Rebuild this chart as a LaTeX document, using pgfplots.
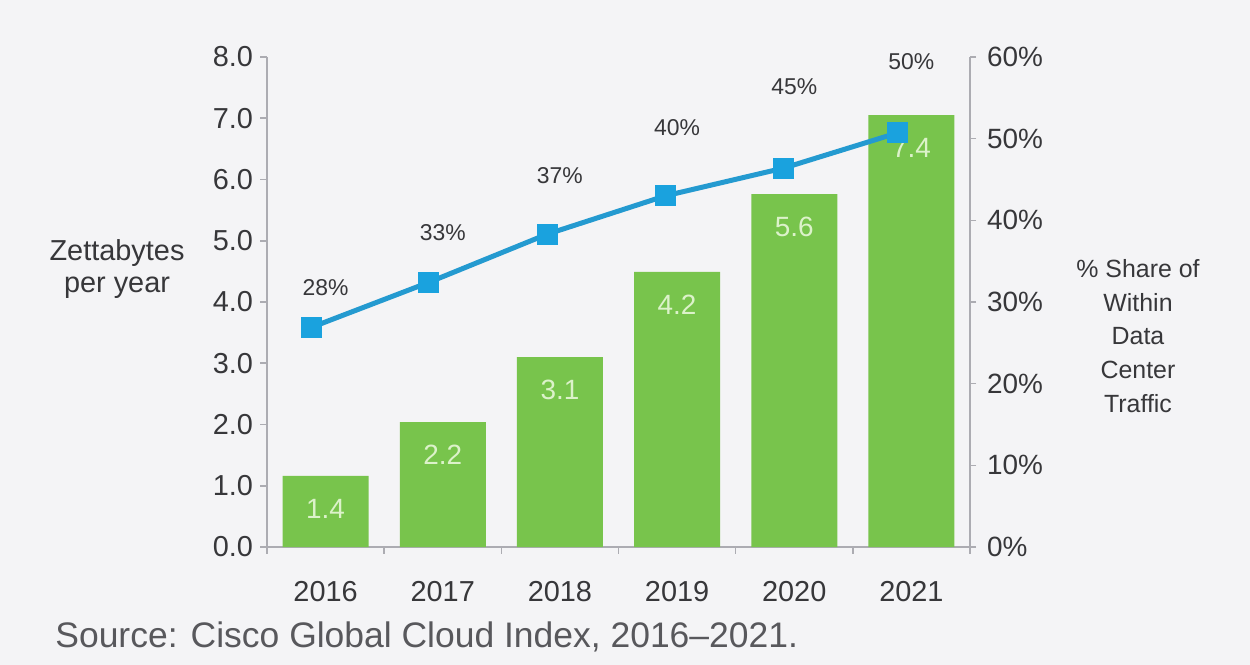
\documentclass[border=0pt]{standalone}
\usepackage{fontspec}
\setmainfont{Liberation Sans}
\usepackage{pgfplots}
\usepackage{pgfplotstable}
\pgfplotsset{compat=1.18}
\definecolor{bg}{RGB}{244,244,246}
\definecolor{bargreen}{RGB}{120,196,76}
\definecolor{barlabel}{RGB}{220,242,202}
\definecolor{lineblue}{RGB}{36,154,208}
\definecolor{markblue}{RGB}{26,162,222}
\definecolor{axisgray}{RGB}{172,172,178}
\definecolor{txt}{RGB}{55,55,58}
\definecolor{srctxt}{RGB}{88,88,92}

\pgfplotstableread{
x h lab
0 1.16 1.4
1 2.04 2.2
2 3.10 3.1
3 4.49 4.2
4 5.76 5.6
5 7.05 7.4
}\bars

\pgfplotstableread{
x y
-0.12 26.9
0.88 32.4
1.89 38.3
2.90 43.0
3.91 46.4
4.88 50.7
}\share

\pgfplotstableread{
x y lab
0 4.24 28
1 5.13 33
2 6.07 37
3 6.84 40
4 7.51 45
5 7.92 50
}\sharelab

\begin{document}
\begin{tikzpicture}
\path[use as bounding box, fill=bg] (0,0) rectangle (625bp,332.5bp);

\begin{axis}[
  at={(133.5bp,59bp)}, anchor=south west,
  width=351.5bp, height=245bp, scale only axis,
  xmin=-0.5, xmax=5.5, ymin=0, ymax=8,
  clip=false,
  axis x line*=bottom, axis y line*=left,
  axis line style={axisgray, line width=0.8bp, -},
  tick style={axisgray, line width=0.8bp},
  tick align=outside, major tick length=3.5bp,
  /pgf/number format/assume math mode=true,
  xtick={-0.5,0.5,1.5,2.5,3.5,4.5,5.5}, xticklabels={},
  extra x ticks={0,1,2,3,4,5},
  extra x tick labels={2016,2017,2018,2019,2020,2021},
  extra x tick style={tick style={draw=none},
    tick label style={font=\fontsize{14.5}{14.5}\selectfont, text=txt, yshift=-10bp}},
  ytick={0,1,...,8},
  yticklabel style={/pgf/number format/fixed, /pgf/number format/fixed zerofill,
    /pgf/number format/precision=1, font=\fontsize{14.5}{14.5}\selectfont, text=txt},
]
\addplot[ybar, bar width=43bp, fill=bargreen, draw=none,
  nodes near coords, point meta=explicit symbolic,
  nodes near coords style={text=barlabel, font=\fontsize{14}{14}\selectfont, anchor=center, yshift=-16.5bp}]
  table[x=x, y=h, meta=lab] {\bars};
\addplot[draw=none, mark=none,
  nodes near coords={\pgfplotspointmeta\%}, point meta=explicit symbolic,
  nodes near coords style={text=txt, font=\fontsize{11.5}{11.5}\selectfont, anchor=center}]
  table[x=x, y=y, meta=lab] {\sharelab};
\end{axis}

\begin{axis}[
  at={(133.5bp,59bp)}, anchor=south west,
  width=351.5bp, height=245bp, scale only axis,
  xmin=-0.5, xmax=5.5, ymin=0, ymax=60,
  clip=false,
  axis x line=none, axis y line*=right,
  axis line style={axisgray, line width=0.8bp, -},
  tick style={axisgray, line width=0.8bp},
  tick align=outside, major tick length=3bp,
  /pgf/number format/assume math mode=true,
  ytick={0,10,...,60},
  yticklabel={\pgfmathprintnumber{\tick}\%},
  yticklabel style={font=\fontsize{14}{14}\selectfont, text=txt, xshift=2bp},
]
\addplot[lineblue, line width=2.5bp, mark=square*, mark size=5bp,
  mark options={fill=markblue, draw=markblue, line width=0.5bp}]
  table[x=x, y=y] {\share};
\end{axis}

\node[align=center, text=txt, font=\fontsize{14.5}{16}\selectfont] at (58.5bp,198bp) {Zettabytes\\per year};
\node[align=center, text=txt, font=\fontsize{12.5}{17}\selectfont] at (569bp,164.5bp) {\% Share of\\Within\\Data\\Center\\Traffic};
\node[anchor=west, text=srctxt, font=\fontsize{17.8}{17.8}\selectfont, inner sep=0pt] at (27.5bp,14bp) {Source: Cisco Global Cloud Index, 2016–2021.};
\end{tikzpicture}
\end{document}
